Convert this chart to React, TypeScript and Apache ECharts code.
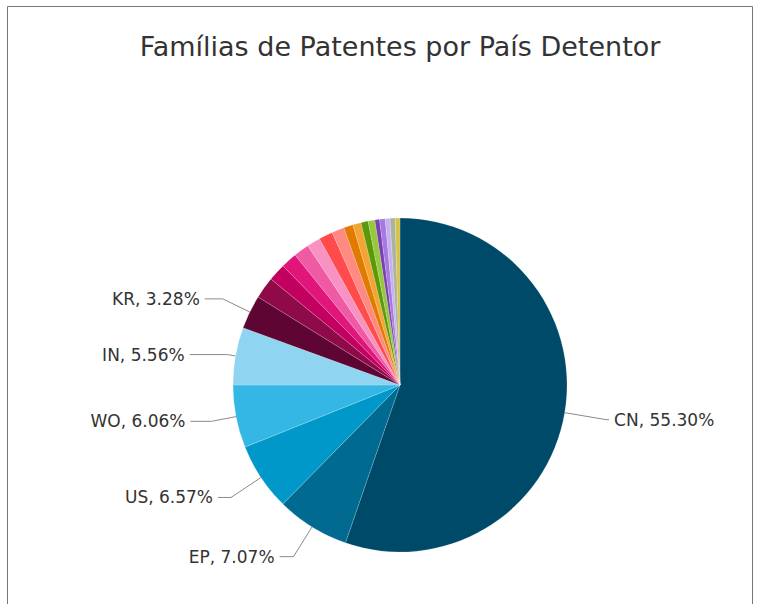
import React, { useEffect, useRef } from "react";
import * as echarts from "echarts";

const titleText = "Famílias de Patentes por País Detentor";

const countries = [
  "CN", "EP", "US", "WO", "IN", "KR",
  "JP", "DE", "GB", "FR", "TW", "CA", "AU", "RU", "ES", "IT", "BR", "CH", "SE", "NL", "MX", "DK",
];

const shares = [
  55.30, 7.07, 6.57, 6.06, 5.56, 3.28,
  2.10, 1.70, 1.55, 1.50, 1.30, 1.35, 1.20, 0.90, 0.80, 0.70, 0.65, 0.45, 0.55, 0.45, 0.50, 0.46,
];

const colors = [
  "#004a69", "#006a91", "#0098c9", "#35b7e6", "#8fd4f0", "#5e0533",
  "#8e0a48", "#c2005f", "#e0167b", "#f05aa5", "#f892c2", "#ff4b4b", "#ff8a82", "#e07b00", "#f2a534",
  "#5a9a0a", "#96c83c", "#7a40b0", "#a47ae0", "#c8b0f0", "#a8b4a0", "#d8c24a",
];

const labeled = ["CN", "EP", "US", "WO", "IN", "KR"];
const lineLength = [42, 35, 36, 25, 8, 30];
const lineLength2 = [3, 14, 13, 21, 38, 18];

export default function App() {
  const ref = useRef<HTMLDivElement>(null);
  useEffect(() => {
    if (!ref.current) return;
    const chart = echarts.init(ref.current, null, { renderer: "svg" });
    const data = countries.map((c, i) => {
      const li = labeled.indexOf(c);
      const show = li >= 0;
      return {
        name: c,
        value: shares[i],
        itemStyle: { color: colors[i] },
        label: { show },
        labelLine: show
          ? { show, length: lineLength[li], length2: lineLength2[li] }
          : { show },
      };
    });
    chart.setOption({
      animation: false,
      backgroundColor: "#ffffff",
      title: {
        text: titleText,
        left: 395,
        top: 28,
        textAlign: "center",
        textStyle: {
          fontFamily: "DejaVu Sans",
          fontWeight: "normal",
          fontSize: 27,
          color: "#333333",
        },
      },
      graphic: [
        {
          type: "rect",
          shape: { x: 7.5, y: 6.5, width: 745, height: 620 },
          style: { fill: "none", stroke: "#777777", lineWidth: 1 },
          silent: true,
        },
      ],
      series: [
        {
          type: "pie",
          center: [400, 385],
          radius: 167,
          startAngle: 90,
          clockwise: true,
          avoidLabelOverlap: false,
          data,
          itemStyle: { borderColor: "rgba(255,255,255,0.35)", borderWidth: 0.5 },
          label: {
            formatter: (p: any) => `${p.name}, ${Number(p.value).toFixed(2)}%`,
            fontFamily: "DejaVu Sans",
            fontSize: 17,
            color: "#333333",
          },
          labelLine: {
            smooth: false,
            lineStyle: { color: "#8a8a8a", width: 1 },
          },
        },
      ],
    });
    return () => chart.dispose();
  }, []);
  return (
    <div
      ref={ref}
      style={{ position: "absolute", left: 0, top: 0, width: 757, height: 604 }}
    />
  );
}
